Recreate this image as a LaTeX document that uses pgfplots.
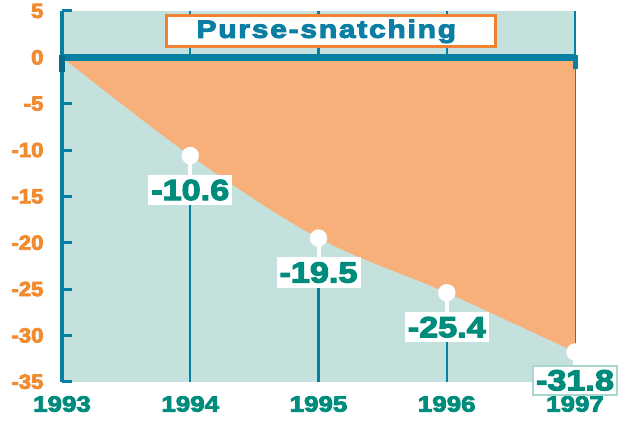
\documentclass[border=0pt]{standalone}
\usepackage{pgfplots}
\pgfplotsset{compat=1.18}
\usepackage{fontspec}
\setmainfont{Liberation Sans}[FakeStretch=1.18, BoldFeatures={FakeBold=4}]
\newfontfamily\ytfont{Liberation Sans}[FakeStretch=1.08, BoldFeatures={FakeBold=4}]
\newfontfamily\titlefont{Liberation Sans}[FakeStretch=1.2,LetterSpace=7, BoldFeatures={FakeBold=4}]
\definecolor{bgteal}{HTML}{C5E1DD}
\definecolor{orfill}{HTML}{F8B07A}
\definecolor{lineblue}{HTML}{0580A3}
\definecolor{ytickc}{HTML}{F28A30}
\definecolor{xgreen}{HTML}{008C7C}
\definecolor{titleblue}{HTML}{0A7FA3}
\definecolor{boxorange}{HTML}{F08232}
\definecolor{boxteal}{HTML}{A9D6CE}
\begin{document}
\begin{tikzpicture}
\begin{axis}[
  scale only axis, width=513pt, height=370.7pt,
  xmin=1993, xmax=1997, ymin=-35, ymax=5,
  axis background/.style={fill=bgteal},
  axis x line*=bottom, axis y line*=left,
  x axis line style={draw=none},
  y axis line style={line width=3.5pt, color=lineblue, -},
  xtick={1993,1994,1995,1996,1997},
  ytick={-35,-30,-25,-20,-15,-10,-5,0,5},
  /pgf/number format/assume math mode=true,
  /pgf/number format/1000 sep={},
  tick align=inside, major tick length=10pt,
  xtick style={draw=none},
  ytick style={line width=3pt, color=lineblue},
  xmajorgrids, grid style={line width=2.2pt, color=lineblue},
  yticklabel style={font=\ytfont\bfseries\fontsize{20.5}{20}\selectfont, text=ytickc, xshift=-15pt},
  xticklabel style={font=\bfseries\fontsize{22}{22}\selectfont, text=xgreen, yshift=-11pt},
  clip=false,
]
\coordinate (bl) at (rel axis cs:0,0);
\coordinate (tr) at (rel axis cs:1,1);
\addplot[fill=orfill, draw=none, smooth, tension=0.55] coordinates {(1993,0)(1994,-10.6)(1995,-19.5)(1996,-25.4)(1997,-31.8)} \closedcycle;
\addplot[lineblue, line width=7pt] coordinates {(1993,0)(1997,0)};
\addplot[lineblue!85!black, line width=6pt] coordinates {(1993,0.3)(1993,-1.6)};
\addplot[lineblue, line width=5pt] coordinates {(1997,0.3)(1997,-1.3)};
\addplot[draw=none, mark=none, error bars/.cd, y dir=minus, y explicit, error mark=none,
  error bar style={white, line width=4pt}] coordinates {(1994,-10.6) -= (0,2.2) (1995,-19.5) -= (0,2.2) (1996,-25.4) -= (0,2.2) (1997,-31.8) -= (0,2.0)};
\addplot[only marks, mark=*, mark size=8.5pt, mark options={fill=white, draw=white}] coordinates {(1994,-10.6)(1995,-19.5)(1996,-25.4)(1997,-31.8)};
\addplot[draw=none, mark=none, nodes near coords, point meta=explicit symbolic,
  nodes near coords style={anchor=north, yshift=-19pt, fill=white, text=xgreen, font=\bfseries\fontsize{29}{29}\selectfont, inner xsep=3pt, inner ysep=5pt}]
  coordinates {(1994,-10.6) [-10.6] (1995,-19.5) [-19.5] (1996,-25.4) [-25.4]};
\addplot[draw=none, mark=none, nodes near coords, point meta=explicit symbolic,
  nodes near coords style={anchor=north, yshift=-13pt, fill=white, draw=boxteal, line width=2pt, text=xgreen, font=\bfseries\fontsize{29}{29}\selectfont, inner xsep=3pt, inner ysep=4pt}]
  coordinates {(1997,-31.8) [-31.8]};
\node[draw=boxorange, line width=3pt, fill=white, minimum width=329pt, minimum height=31pt, text=titleblue, font=\titlefont\bfseries\fontsize{25}{25}\selectfont, inner sep=0pt] at (axis cs:1995.1,2.8) {Purse-snatching\hspace*{10pt}};
\end{axis}
\pgfresetboundingbox
\useasboundingbox ([xshift=-62pt,yshift=-41.3pt]bl) rectangle ([xshift=50pt,yshift=11pt]tr);
\end{tikzpicture}
\end{document}
